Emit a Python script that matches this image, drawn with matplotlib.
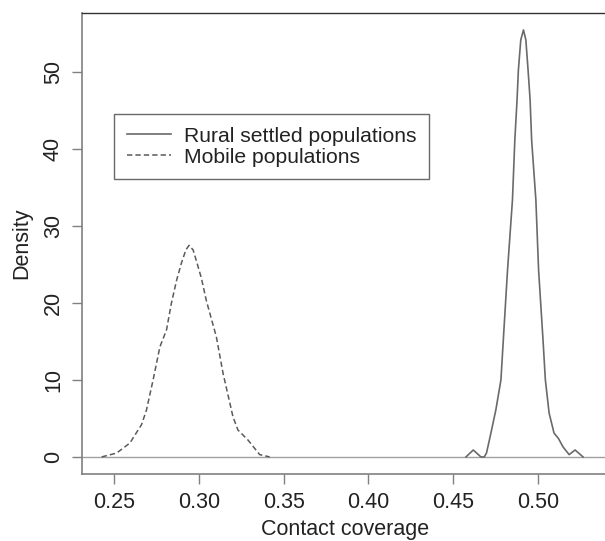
import matplotlib.pyplot as plt

plt.rcParams['font.family'] = ['Liberation Sans', 'DejaVu Sans']

# density curves
mobile_x = [0.2428, 0.2516, 0.2594, 0.2663, 0.2692, 0.2731, 0.2771, 0.2810,
            0.2839, 0.2870, 0.2898, 0.2924, 0.2943, 0.2967, 0.2990, 0.3016,
            0.3045, 0.3104, 0.3143, 0.3202, 0.3231, 0.3290, 0.3359, 0.3418]
mobile_y = [0.0, 0.5, 1.8, 4.2, 6.1, 10.0, 14.3, 16.5,
            20.0, 23.0, 25.2, 26.9, 27.5, 26.9, 25.2, 23.2,
            20.3, 15.6, 10.9, 5.2, 3.5, 2.2, 0.3, 0.0]

rural_x = [0.4575, 0.4618, 0.4663, 0.4683, 0.4696, 0.4722, 0.4751, 0.4781,
           0.4800, 0.4820, 0.4849, 0.4863, 0.4876, 0.4884, 0.4898, 0.4914,
           0.4928, 0.4941, 0.4953, 0.4962, 0.4987, 0.5003, 0.5028, 0.5043,
           0.5065, 0.5094, 0.5120, 0.5147, 0.5183, 0.5218, 0.5265]
rural_y = [0.0, 0.9, 0.0, 0.0, 0.5, 3.1, 6.1, 10.0,
           17.0, 24.3, 33.4, 41.2, 46.4, 50.3, 54.2, 55.5,
           54.2, 50.3, 46.4, 41.2, 33.4, 24.3, 15.6, 10.0,
           5.7, 3.1, 2.4, 1.3, 0.3, 0.9, 0.0]

xticks = [0.25, 0.30, 0.35, 0.40, 0.45, 0.50]
yticks = [0, 10, 20, 30, 40, 50]

fig = plt.figure(figsize=(6.05, 5.41), dpi=100)
ax = fig.add_axes([82 / 605, 1 - 474 / 541, 527 / 605, 461 / 541])

ax.axhline(0, color='#a0a0a0', lw=1.0, zorder=1)
ax.plot(rural_x, rural_y, color='#6a6a6a', lw=1.2, label='Rural settled populations')
ax.plot(mobile_x, mobile_y, color='#5a5a5a', lw=1.1, ls=(0, (3.5, 2.0)),
        label='Mobile populations')

ax.set_xlim(0.2312, 0.5418)
ax.set_ylim(-2.22, 57.7)
ax.set_xticks(xticks)
ax.set_xticklabels(['%.2f' % v for v in xticks])
ax.set_yticks(yticks)
ax.set_yticklabels([str(v) for v in yticks], rotation=90, va='center')

ax.tick_params(axis='both', direction='out', length=7, width=1.0,
               color='#808080', labelsize=15.5, labelcolor='#222222')
ax.tick_params(axis='x', pad=6)
ax.tick_params(axis='y', pad=6)

for s in ['left', 'bottom']:
    ax.spines[s].set_color('#808080')
    ax.spines[s].set_linewidth(1.2)
ax.spines['top'].set_color('#333333')
ax.spines['top'].set_linewidth(1.0)
ax.spines['right'].set_color('#333333')

ax.set_xlabel('Contact coverage', fontsize=15.5, color='#222222', labelpad=4)
ax.set_ylabel('Density', fontsize=15.5, color='#222222', labelpad=8)

leg = ax.legend(loc='upper left', bbox_to_anchor=(0.0607, 0.781), borderaxespad=0,
                fontsize=15.2, frameon=True, fancybox=False, handlelength=2.1,
                handletextpad=0.6, borderpad=0.6, labelspacing=0.1)
leg.get_frame().set_edgecolor('#444444')
leg.get_frame().set_linewidth(1.0)
for t in leg.get_texts():
    t.set_color('#222222')

fig.savefig('out.png', dpi=100)
